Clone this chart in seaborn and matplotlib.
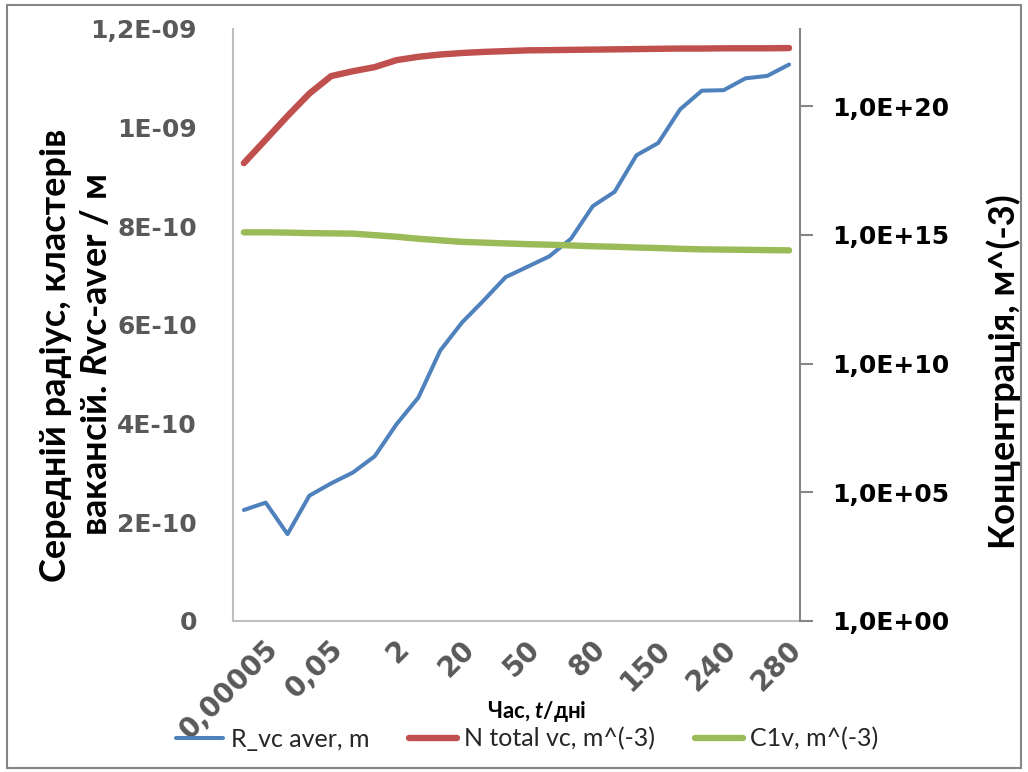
import numpy as np
import pandas as pd
import matplotlib
matplotlib.use("Agg")
import matplotlib.pyplot as plt
from matplotlib.patches import Rectangle
from matplotlib.transforms import ScaledTranslation
import seaborn as sns

# Time categories (days); only every third category carries a label
tick_labels = ["0,00005", "0,05", "2", "20", "50", "80", "150", "240", "280"]
n_points = 26

# Mean vacancy-cluster radius, m
r_vc_aver = [2.25e-10, 2.40e-10, 1.76e-10, 2.54e-10, 2.79e-10, 3.01e-10, 3.34e-10,
             3.99e-10, 4.53e-10, 5.48e-10, 6.05e-10, 6.50e-10, 6.97e-10, 7.18e-10,
             7.39e-10, 7.75e-10, 8.41e-10, 8.70e-10, 9.44e-10, 9.69e-10, 1.037e-09,
             1.075e-09, 1.076e-09, 1.100e-09, 1.105e-09, 1.128e-09]

# Total vacancy-cluster concentration, m^-3
n_total_vc = [6.17e17, 5.01e18, 4.17e19, 3.09e20, 1.48e21, 2.29e21, 3.31e21,
              6.17e21, 8.32e21, 1.02e22, 1.17e22, 1.29e22, 1.38e22, 1.48e22,
              1.51e22, 1.55e22, 1.58e22, 1.62e22, 1.66e22, 1.70e22, 1.74e22,
              1.74e22, 1.78e22, 1.78e22, 1.78e22, 1.82e22]

# Single vacancy concentration, m^-3
c1v = [1.26e15, 1.26e15, 1.23e15, 1.175e15, 1.148e15, 1.122e15, 9.77e14,
       8.51e14, 7.08e14, 6.17e14, 5.37e14, 5.01e14, 4.68e14, 4.37e14,
       4.17e14, 3.89e14, 3.63e14, 3.47e14, 3.24e14, 3.09e14, 2.88e14,
       2.75e14, 2.69e14, 2.63e14, 2.57e14, 2.51e14]

left_ticks = [0, 2e-10, 4e-10, 6e-10, 8e-10, 1e-09, 1.2e-09]
left_tick_labels = ["0", "2E-10", "4E-10", "6E-10", "8E-10", "1E-09", "1,2E-09"]
right_ticks = [1e0, 1e5, 1e10, 1e15, 1e20]
right_tick_labels = ["1,0E+00", "1,0E+05", "1,0E+10", "1,0E+15", "1,0E+20"]

sns.set_theme(style="white")
plt.rcParams["font.family"] = ["Lato", "DejaVu Sans"]
plt.rcParams["mathtext.fontset"] = "custom"
plt.rcParams["mathtext.it"] = "Lato:italic:bold"
plt.rcParams["mathtext.rm"] = "Lato:bold"
plt.rcParams["mathtext.bf"] = "Lato:bold"

df = pd.DataFrame({
    "idx": np.arange(n_points),
    "r": r_vc_aver,
    "n": n_total_vc,
    "c": c1v,
})

BLUE = "#4F81BD"
RED = "#C0504D"
GREEN = "#9BBB59"
GREY_TXT = "#595959"

fig = plt.figure(figsize=(10.28, 7.72), dpi=100)
ax = fig.add_axes([233 / 1028, 1 - 621 / 772, (800 - 233) / 1028, (621 - 29) / 772])
ax2 = ax.twinx()

sns.lineplot(data=df, x="idx", y="r", ax=ax, color=BLUE, linewidth=2.9,
             label="R_vc aver, m", solid_capstyle="round", solid_joinstyle="round")
sns.lineplot(data=df, x="idx", y="n", ax=ax2, color=RED, linewidth=4.6,
             label="N total vc, m^(-3)", solid_capstyle="round", solid_joinstyle="round")
sns.lineplot(data=df, x="idx", y="c", ax=ax2, color=GREEN, linewidth=4.6,
             label="C1v, m^(-3)", solid_capstyle="round", solid_joinstyle="round")

ax.set_xlim(-0.5, n_points - 0.5)
ax.set_ylim(0, 1.2e-09)
ax2.set_yscale("log")
ax2.set_ylim(1e0, 1e23)

# left axis
ax.set_yticks(left_ticks)
ax.set_yticklabels(left_tick_labels, fontfamily="DejaVu Sans", fontweight="bold",
                   fontsize=18, color=GREY_TXT)
ax.tick_params(axis="y", length=0, pad=26)

# category axis
ax.set_xticks(np.arange(0, n_points, 3))
ax.set_xticklabels(tick_labels, rotation=45, ha="right", va="top",
                   rotation_mode="anchor", fontfamily="DejaVu Sans",
                   fontweight="bold", fontsize=20, color=GREY_TXT)
ax.tick_params(axis="x", length=0, pad=10)
shift = ScaledTranslation(20 / 100, 0, fig.dpi_scale_trans)
for lbl in ax.get_xticklabels():
    lbl.set_transform(lbl.get_transform() + shift)

# right axis
ax2.set_yticks(right_ticks)
ax2.set_yticklabels(right_tick_labels, fontfamily="DejaVu Sans", fontweight="bold",
                    fontsize=18, color="black")
ax2.yaxis.set_minor_locator(matplotlib.ticker.NullLocator())
ax2.tick_params(axis="y", which="major", length=9, width=1.5, color="#868686",
                direction="out", pad=14)

for s in ["top", "right"]:
    ax.spines[s].set_visible(False)
for s in ["left", "bottom"]:
    ax.spines[s].set_color("#BFBFBF")
    ax.spines[s].set_linewidth(1.5)
for s in ["top", "left", "bottom"]:
    ax2.spines[s].set_visible(False)
ax2.spines["right"].set_color("#868686")
ax2.spines["right"].set_linewidth(1.5)

ax.set_xlabel("")
ax.set_ylabel("")
ax2.set_ylabel("")

# axis titles
fig.text(76 / 1028, 1 - 355 / 772,
         "Середній радіус, кластерів\nвакансій. $R$vc-aver / м",
         rotation=90, ha="center", va="center", multialignment="center",
         fontsize=26, fontweight="bold", color="black", linespacing=1.3)
fig.text(1004 / 1028, 1 - 372 / 772, "Концентрація, м^(-3)",
         rotation=90, ha="center", va="center",
         fontsize=26, fontweight="bold", color="black")
fig.text(537 / 1028, 1 - 712 / 772, "Час, $t$/дні", ha="center", va="center",
         fontsize=16, fontweight="bold", color="black")

# legend below the plot
h1, l1 = ax.get_legend_handles_labels()
h2, l2 = ax2.get_legend_handles_labels()
for lg in (ax.get_legend(), ax2.get_legend()):
    if lg is not None:
        lg.remove()
fig.legend(h1 + h2, l1 + l2, loc="center", bbox_to_anchor=(527 / 1028, 1 - 739 / 772),
           ncol=3, frameon=False, fontsize=18, handlelength=1.9,
           columnspacing=1.6, handletextpad=0.3)

# chart border
fig.patches.append(Rectangle((7 / 1028, 4 / 772), 1014 / 1028, 763 / 772,
                             transform=fig.transFigure, fill=False,
                             edgecolor="#868686", linewidth=1.5))

fig.savefig("out.png", dpi=100)
